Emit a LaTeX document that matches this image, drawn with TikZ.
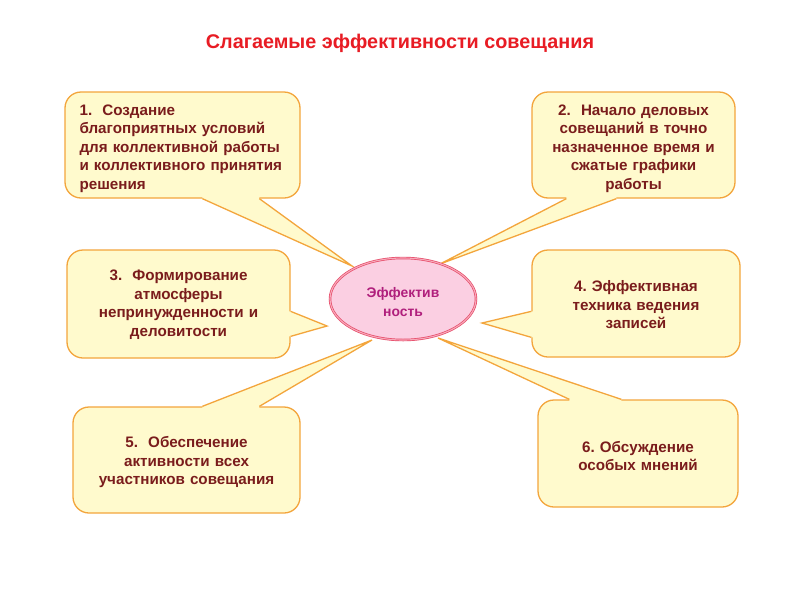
\documentclass[tikz,border=0pt]{standalone}
\usepackage{fontspec}
\setmainfont{Liberation Sans}
\usetikzlibrary{shapes.geometric,calc}
\frenchspacing
\definecolor{boxfill}{HTML}{FFFACD}
\definecolor{boxdraw}{HTML}{F3A53C}
\definecolor{textcol}{HTML}{7A1C1C}
\definecolor{ellfill}{HTML}{FBCFE2}
\definecolor{ellborder}{HTML}{E64A68}
\definecolor{ellinner}{HTML}{F7A9BA}
\definecolor{elltext}{HTML}{B01F7C}
\definecolor{titlecol}{HTML}{E81C24}
\begin{document}
\begin{tikzpicture}[x=1pt,y=-1pt,
  box/.style={draw=boxdraw, fill=boxfill, line width=1.3pt, rounded corners=16pt, inner sep=0pt},
  boxtext/.style={font=\bfseries\fontsize{15.2}{18.5}\selectfont, text=textcol, align=center, inner sep=0pt},
  tailfill/.style={fill=boxfill},
  tailline/.style={draw=boxdraw, line width=1.3pt},
  centre/.style={ellipse, draw=ellborder, double=ellinner, double distance=1.1pt, line width=0.7pt,
    fill=ellfill, minimum width=146pt, minimum height=82pt, inner sep=0pt},
  centretext/.style={text=elltext, font=\bfseries\fontsize{13.9}{19}\selectfont, align=center, inner sep=0pt},
  titlestyle/.style={text=titlecol, font=\bfseries\fontsize{19.8}{22}\selectfont}]
\useasboundingbox[fill=white] (0,0) rectangle (800,600);

\node[titlestyle] (title) at (400,43) {Слагаемые эффективности совещания};

% boxes
\node[box, minimum width=235pt, minimum height=106pt] (b1) at (182.5,145) {};
\node[box, minimum width=203pt, minimum height=106pt] (b2) at (633.5,145) {};
\node[box, minimum width=223pt, minimum height=108pt] (b3) at (178.5,304) {};
\node[box, minimum width=208pt, minimum height=107pt] (b4) at (636,303.5) {};
\node[box, minimum width=227pt, minimum height=106pt] (b5) at (186.5,460) {};
\node[box, minimum width=200pt, minimum height=107pt] (b6) at (638,453.5) {};

% tail tips
\coordinate (t1) at (352,266);
\coordinate (t2) at (440,264);
\coordinate (t3) at (327,326);
\coordinate (t4) at (482,323);
\coordinate (t5) at (372,340);
\coordinate (t6) at (438,338);

% tail 1 (bottom edge)
\fill[tailfill] ($(b1.south west)+(138,-2)$) -- ($(b1.south west)+(138,0)$) -- (t1) -- ($(b1.south west)+(195,0)$) -- ($(b1.south west)+(195,-2)$) -- cycle;
\draw[tailline] ($(b1.south west)+(138,0)$) -- (t1) -- ($(b1.south west)+(195,0)$);
% tail 2 (bottom edge)
\fill[tailfill] ($(b2.south west)+(35,-2)$) -- ($(b2.south west)+(35,0)$) -- (t2) -- ($(b2.south west)+(85,0)$) -- ($(b2.south west)+(85,-2)$) -- cycle;
\draw[tailline] ($(b2.south west)+(35,0)$) -- (t2) -- ($(b2.south west)+(85,0)$);
% tail 3 (right edge)
\fill[tailfill] ($(b3.north east)+(-2,62)$) -- ($(b3.north east)+(0,62)$) -- (t3) -- ($(b3.north east)+(0,87)$) -- ($(b3.north east)+(-2,87)$) -- cycle;
\draw[tailline] ($(b3.north east)+(0,62)$) -- (t3) -- ($(b3.north east)+(0,87)$);
% tail 4 (left edge)
\fill[tailfill] ($(b4.north west)+(2,62)$) -- ($(b4.north west)+(0,62)$) -- (t4) -- ($(b4.north west)+(0,88)$) -- ($(b4.north west)+(2,88)$) -- cycle;
\draw[tailline] ($(b4.north west)+(0,62)$) -- (t4) -- ($(b4.north west)+(0,88)$);
% tail 5 (top edge)
\fill[tailfill] ($(b5.north west)+(130,2)$) -- ($(b5.north west)+(130,0)$) -- (t5) -- ($(b5.north west)+(187,0)$) -- ($(b5.north west)+(187,2)$) -- cycle;
\draw[tailline] ($(b5.north west)+(130,0)$) -- (t5) -- ($(b5.north west)+(187,0)$);
% tail 6 (top edge)
\fill[tailfill] ($(b6.north west)+(32,2)$) -- ($(b6.north west)+(32,0)$) -- (t6) -- ($(b6.north west)+(84,0)$) -- ($(b6.north west)+(84,2)$) -- cycle;
\draw[tailline] ($(b6.north west)+(32,0)$) -- (t6) -- ($(b6.north west)+(84,0)$);

% box texts
\node[boxtext, anchor=west, text width=212pt, align=left] (b1t) at ($(b1.west)+(15,3.5)$)
  {1.\ \ Создание\\благоприятных условий\\для коллективной работы\\и коллективного принятия\\решения};
\node[boxtext, text width=200pt] (b2t) at ($(b2.center)+(0,3.5)$)
  {2.\ \ Начало деловых\\совещаний в точно\\назначенное время и\\сжатые графики\\работы};
\node[boxtext, text width=215pt] (b3t) at ($(b3.center)+(0,0.5)$)
  {3.\ \ Формирование\\атмосферы\\непринужденности и\\деловитости};
\node[boxtext, text width=200pt] (b4t) at ($(b4.center)+(0,1.5)$)
  {4. Эффективная\\техника ведения\\записей};
\node[boxtext, text width=215pt] (b5t) at ($(b5.center)+(0,2)$)
  {5.\ \ Обеспечение\\активности всех\\участников совещания};
\node[boxtext, text width=195pt] (b6t) at ($(b6.center)+(0,2.5)$)
  {6. Обсуждение\\особых мнений};

% centre
\node[centre] (c) at (403,299) {};
\node[centretext] (ct) at ($(c.center)+(0,3.5)$) {Эффектив\\ность};
\end{tikzpicture}
\end{document}
